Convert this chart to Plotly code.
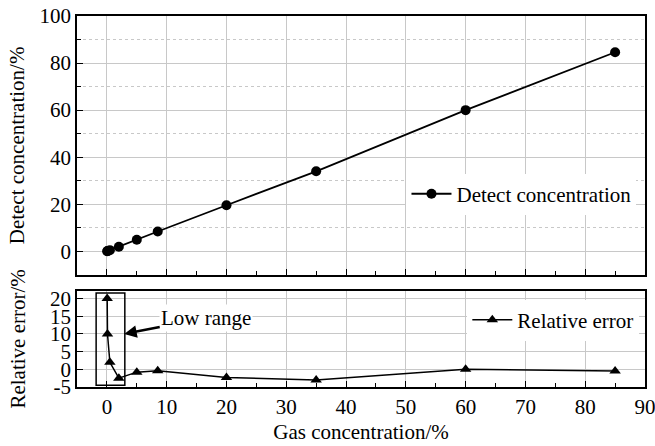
import plotly.graph_objects as go
from plotly.subplots import make_subplots

gas = [0.05, 0.1, 0.5, 2, 5, 8.5, 20, 35, 60, 85]
detect = [0.06, 0.11, 0.51, 1.95, 4.96, 8.45, 19.6, 34.0, 60.0, 84.6]
rel_error = [20.0, 10.0, 2.0, -2.5, -0.8, -0.4, -2.3, -3.0, 0.0, -0.5]

x_ticks = [0, 10, 20, 30, 40, 50, 60, 70, 80, 90]
y1_ticks = [0, 20, 40, 60, 80, 100]
y2_ticks = [20, 15, 10, 5, 0, -5]
y2_labels = ["20", "15", "10", "5", "0", "-5"]

FONT = "Liberation Serif, Times New Roman, serif"
FS = 21
GRID = "#c8c8c8"

fig = make_subplots(rows=2, cols=1, shared_xaxes=True, vertical_spacing=0.043,
                    row_heights=[0.70, 0.26])

fig.add_trace(go.Scatter(x=gas, y=detect, mode="lines+markers", name="Detect concentration",
                         line=dict(color="black", width=1.8),
                         marker=dict(symbol="circle", size=10, color="black"),
                         legend="legend", showlegend=True), row=1, col=1)
fig.add_trace(go.Scatter(x=gas, y=rel_error, mode="lines+markers", name="Relative error",
                         line=dict(color="black", width=1.5),
                         marker=dict(symbol="triangle-up", size=10, color="black"),
                         legend="legend2", showlegend=True), row=2, col=1)

axis_common = dict(showline=True, linecolor="black", linewidth=1.5, mirror=True,
                   ticks="inside", ticklen=6, tickcolor="black", tickwidth=1,
                   gridcolor=GRID, gridwidth=1, zeroline=False, automargin=False,
                   ticklabeloverflow="allow",
                   tickfont=dict(family=FONT, size=FS, color="black"))

fig.update_xaxes(**axis_common, range=[-5, 90], tickvals=x_ticks,
                 minor=dict(dtick=5, ticks="inside", ticklen=4, tickcolor="black", showgrid=False))
fig.update_xaxes(showticklabels=False, row=1, col=1)
fig.update_xaxes(title=dict(text="Gas concentration/%", font=dict(family=FONT, size=FS, color="black"),
                            standoff=6), row=2, col=1)

fig.update_yaxes(**axis_common)
fig.update_yaxes(range=[-10, 100], tickvals=y1_ticks,
                 minor=dict(dtick=10, ticks="inside", ticklen=4, tickcolor="black",
                            showgrid=True, gridcolor=GRID, griddash="dot"),
                 title=dict(text="Detect concentration/%", font=dict(family=FONT, size=FS, color="black"),
                            standoff=9),
                 row=1, col=1)
fig.update_yaxes(range=[-5, 22.2], tickvals=y2_ticks, ticktext=y2_labels,
                 title=dict(text="Relative error/%", font=dict(family=FONT, size=FS, color="black"),
                            standoff=19),
                 row=2, col=1)

# Low range box and arrow
fig.add_shape(type="rect", x0=-1.8, x1=3.0, y0=-4.5, y1=21.6, xref="x2", yref="y2",
              line=dict(color="black", width=1.5), fillcolor="rgba(0,0,0,0)")
fig.add_annotation(x=2.9, y=10, xref="x2", yref="y2", text="Low range",
                   showarrow=True, ax=82, ay=-16, arrowhead=2, arrowsize=1, arrowwidth=2.5,
                   arrowcolor="black", font=dict(family=FONT, size=FS, color="black"),
                   bgcolor="white")

fig.update_layout(
    width=655, height=446,
    margin=dict(l=77, r=10, t=16, b=59, autoexpand=False),
    paper_bgcolor="white", plot_bgcolor="white",
    showlegend=True,
    font=dict(family=FONT, size=FS, color="black"),
    legend=dict(x=0.985, y=0.52, xanchor="right", yanchor="middle", bgcolor="white",
                font=dict(family=FONT, size=FS, color="black"), itemwidth=40),
    legend2=dict(x=0.99, y=0.18, xanchor="right", yanchor="middle", bgcolor="white",
                 font=dict(family=FONT, size=FS, color="black"), itemwidth=40),
)

fig.write_html("out.html")
